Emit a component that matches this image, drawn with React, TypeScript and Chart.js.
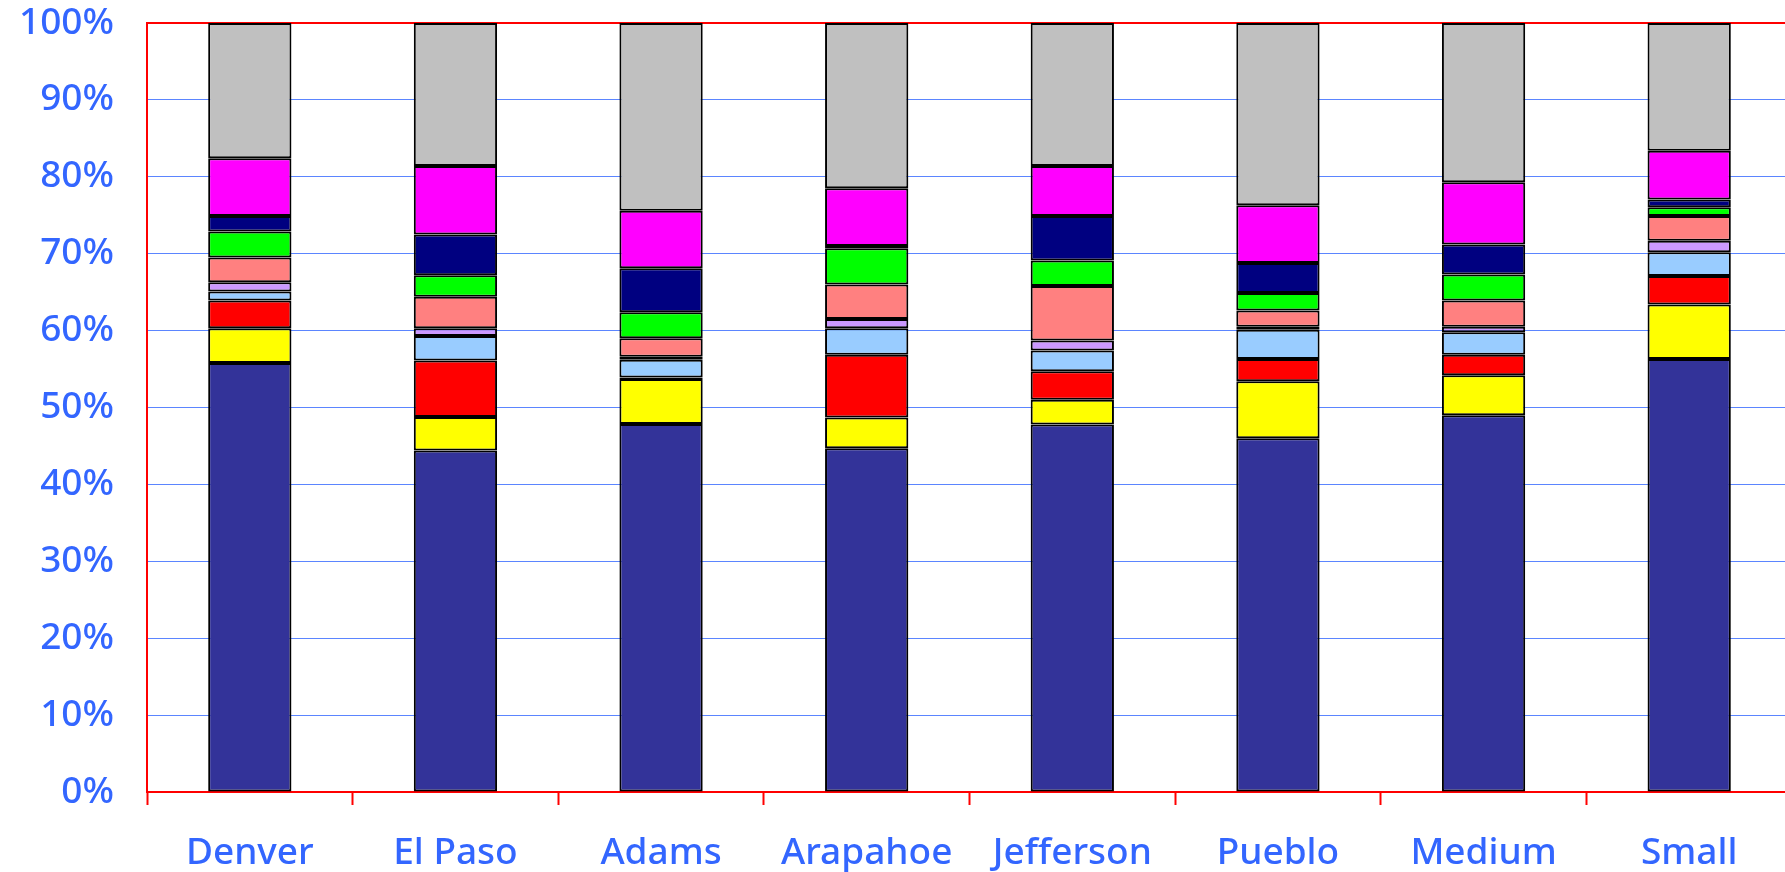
import React, { useEffect, useRef } from "react";
import { Chart, registerables } from "chart.js";

Chart.register(...registerables);

const categories = ["Denver", "El Paso", "Adams", "Arapahoe", "Jefferson", "Pueblo", "Medium", "Small"];

const series1 = [55.8, 44.4, 47.85, 44.7, 47.8, 46.0, 49.0, 56.3];
const series2 = [4.5, 4.35, 5.85, 4.0, 3.2, 7.4, 5.2, 7.1];
const series3 = [3.6, 7.35, 0.2, 8.15, 3.7, 2.9, 2.65, 3.7];
const series4 = [1.2, 3.2, 2.3, 3.45, 2.7, 3.8, 2.95, 3.1];
const series5 = [1.2, 1.0, 0.4, 1.2, 1.3, 0.4, 0.7, 1.5];
const series6 = [3.2, 4.1, 2.4, 4.5, 7.1, 2.1, 3.4, 3.2];
const series7 = [3.4, 2.8, 3.4, 4.7, 3.3, 2.3, 3.4, 1.15];
const series8 = [2.0, 5.3, 5.7, 0.3, 5.8, 3.9, 3.9, 1.0];
const series9 = [7.5, 8.9, 7.5, 7.5, 6.5, 7.5, 8.1, 6.35];
const series10 = [17.6, 18.6, 24.4, 21.5, 18.6, 23.7, 20.7, 16.6];

const seriesValues = [series1, series2, series3, series4, series5, series6, series7, series8, series9, series10];
const seriesNames = ["Series 1", "Series 2", "Series 3", "Series 4", "Series 5", "Series 6", "Series 7", "Series 8", "Series 9", "Series 10"];
const seriesColors = ["#333399", "#FFFF00", "#FF0000", "#99CCFF", "#CC99FF", "#FF8080", "#00FF00", "#000080", "#FF00FF", "#C0C0C0"];

const yTicks = [0, 10, 20, 30, 40, 50, 60, 70, 80, 90, 100];

const LABEL_COLOR = "#3366FF";
const FONT = { family: "'Noto Sans', sans-serif", size: 37, weight: "500" as any };

export default function App() {
  const ref = useRef<HTMLCanvasElement | null>(null);

  useEffect(() => {
    if (!ref.current) return;
    const chart = new Chart(ref.current, {
      type: "bar",
      data: {
        labels: categories,
        datasets: seriesValues.map((vals, i) => ({
          label: seriesNames[i],
          data: vals,
          backgroundColor: seriesColors[i],
          borderColor: "#000000",
          borderWidth: 2,
          borderSkipped: false,
          barPercentage: 0.405,
          categoryPercentage: 1,
        })),
      },
      options: {
        responsive: false,
        animation: false,
        devicePixelRatio: 1,
        layout: { padding: { top: 23, right: 8, left: 0, bottom: 0 } },
        plugins: { legend: { display: false }, tooltip: { enabled: false } },
        scales: {
          x: {
            stacked: true,
            offset: true,
            grid: {
              offset: true,
              drawOnChartArea: false,
              drawTicks: true,
              tickLength: 13,
              tickColor: "#FF0000",
              tickWidth: 2,
            },
            border: { display: true, color: "#FF0000", width: 2 },
            ticks: { color: LABEL_COLOR, font: FONT, padding: 26, maxRotation: 0, autoSkip: false },
            afterFit: (scale: any) => {
              scale.height = 80;
              scale.paddingLeft = 0;
              scale.paddingRight = 0;
            },
          },
          y: {
            stacked: true,
            min: 0,
            max: 100,
            afterBuildTicks: (scale: any) => {
              scale.ticks = yTicks.map((v) => ({ value: v }));
            },
            grid: {
              drawTicks: false,
              color: (ctx: any) => (ctx.tick && ctx.tick.value === 100 ? "#FF0000" : "#5B85FF"),
              lineWidth: (ctx: any) => (ctx.tick && ctx.tick.value === 100 ? 2 : 1),
            },
            border: { display: true, color: "#FF0000", width: 2 },
            ticks: {
              color: LABEL_COLOR,
              font: FONT,
              padding: 33,
              callback: (v: any) => `${v}%`,
            },
            afterFit: (scale: any) => {
              scale.width = 147;
              scale.paddingTop = 0;
              scale.paddingBottom = 0;
            },
          },
        },
      },
    });
    return () => chart.destroy();
  }, []);

  return (
    <div style={{ position: "fixed", left: 0, top: 0, width: 1785, height: 872, overflow: "hidden", background: "#fff" }}>
      <canvas ref={ref} width={1800} height={872} style={{ width: 1800, height: 872, display: "block" }} />
    </div>
  );
}
